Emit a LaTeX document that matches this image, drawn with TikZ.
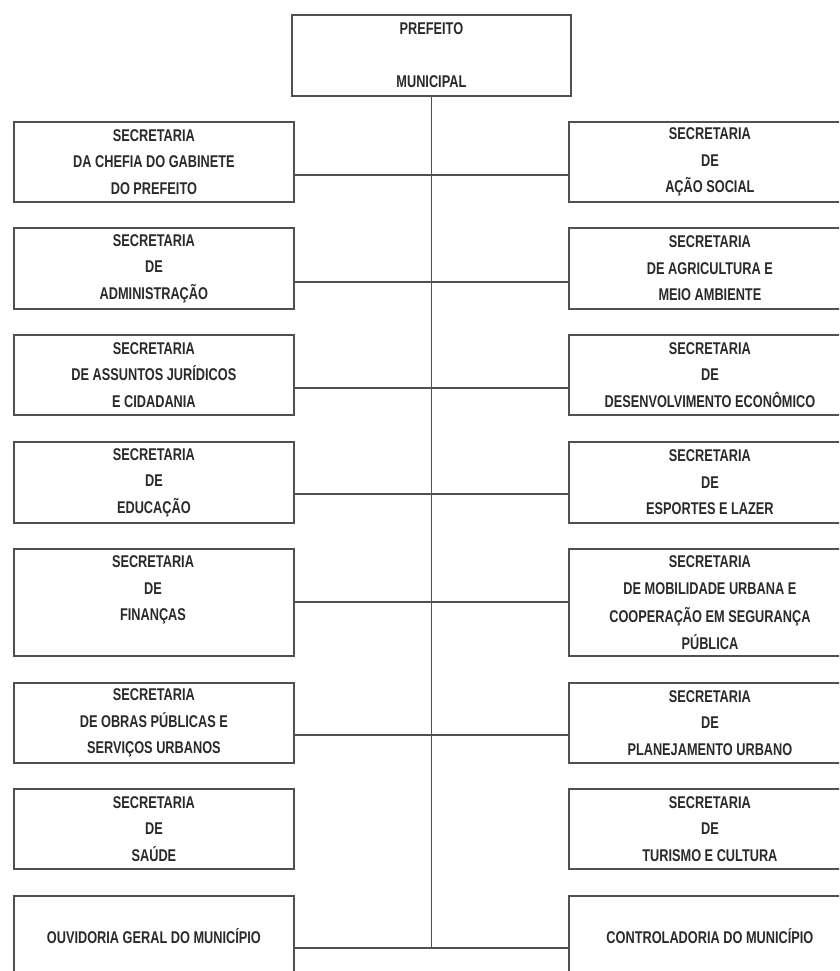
\documentclass[tikz,border=0pt]{standalone}
\usepackage{fontspec}
\setmainfont{Liberation Sans}[FakeStretch=0.75]
\definecolor{linegray}{HTML}{505050}
\definecolor{textgray}{HTML}{2A2A2A}
\newcommand\boxfont{\fontsize{17}{26.5}\selectfont\bfseries}
\begin{document}
\begin{tikzpicture}[x=1pt,y=-1pt,
  box/.style={draw=linegray, line width=1.8pt, rectangle, minimum width=280pt,
    minimum height=80pt, inner sep=0pt, align=center, font=\boxfont,
    text=textgray, anchor=north west},
  rbox/.style={box, minimum width=282pt},
  conn/.style={draw=linegray, line width=1.8pt}]
\useasboundingbox (0,0) rectangle (839,971);
\clip (0,0) rectangle (839,971);
\fill[white] (0,0) rectangle (839,971);

% top
\node[box, minimum width=279pt, minimum height=81pt] (P) at (291,14)
  {PREFEITO\\ \mbox{}\\ MUNICIPAL};

% left column
\node[box] (L1) at (13,121) {SECRETARIA\\ DA CHEFIA DO GABINETE\\ DO PREFEITO};
\node[box, minimum height=81pt] (L2) at (13,227) {SECRETARIA\\ DE\\ ADMINISTRAÇÃO};
\node[box] (L3) at (13,334) {SECRETARIA\\ DE ASSUNTOS JURÍDICOS\\ E CIDADANIA};
\node[box, minimum height=81pt] (L4) at (13,441) {SECRETARIA\\ DE\\ EDUCAÇÃO};
\node[box, minimum height=107pt] (L5) at (13,548) {};
\node[align=center, font=\boxfont, text=textgray, inner sep=0pt] (L5t) at (153,590)
  {SECRETARIA\\ DE\\ FINANÇAS};
\node[box] (L6) at (13,682) {SECRETARIA\\ DE OBRAS PÚBLICAS E\\ SERVIÇOS URBANOS};
\node[box] (L7) at (13,788) {SECRETARIA\\ DE\\ SAÚDE};
\node[box] (L8) at (13,895) {OUVIDORIA GERAL DO MUNICÍPIO};

% right column
\node[rbox] (R1) at (568,121) {SECRETARIA\\ DE\\ AÇÃO SOCIAL};
\node[rbox, minimum height=81pt] (R2) at (568,227) {SECRETARIA\\ DE AGRICULTURA E\\ MEIO AMBIENTE};
\node[rbox] (R3) at (568,334) {SECRETARIA\\ DE\\ DESENVOLVIMENTO ECONÔMICO};
\node[rbox, minimum height=81pt] (R4) at (568,441) {SECRETARIA\\ DE\\ ESPORTES E LAZER};
\node[rbox, minimum height=107pt, font=\fontsize{17}{27.5}\selectfont\bfseries] (R5) at (568,548)
  {SECRETARIA\\ DE MOBILIDADE URBANA E\\ COOPERAÇÃO EM SEGURANÇA\\ PÚBLICA};
\node[rbox] (R6) at (568,682) {SECRETARIA\\ DE\\ PLANEJAMENTO URBANO};
\node[rbox] (R7) at (568,788) {SECRETARIA\\ DE\\ TURISMO E CULTURA};
\node[rbox] (R8) at (568,895) {CONTROLADORIA DO MUNICÍPIO};

% trunk junctions
\coordinate (c1) at (P.south |- 0,175);
\coordinate (c2) at (P.south |- 0,282);
\coordinate (c3) at (P.south |- 0,388);
\coordinate (c4) at (P.south |- 0,494);
\coordinate (c5) at (P.south |- 0,602);
\coordinate (c6) at (P.south |- 0,735);
\coordinate (c8) at (P.south |- 0,948);

\draw[conn] (P.south) -- (c8);
\foreach \i in {1,2,3,4,5,6,8}{
  \draw[conn] (c\i -| L\i.east) -- (c\i -| R\i.west);
}
\end{tikzpicture}
\end{document}
